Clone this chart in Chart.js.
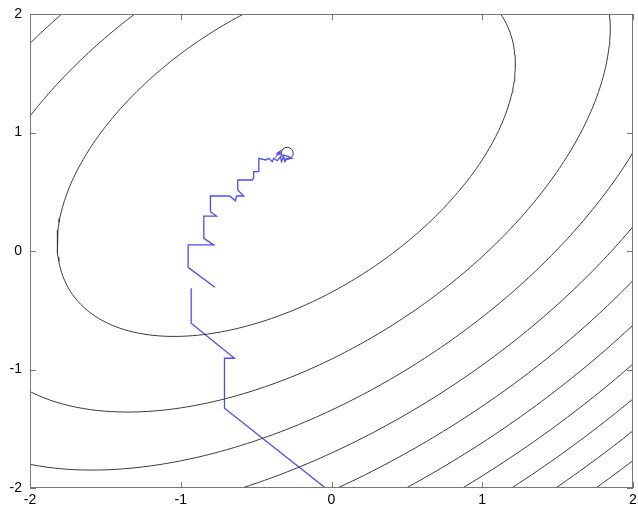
<!DOCTYPE html>
<html>
<head>
<meta charset="utf-8">
<script src="https://cdn.jsdelivr.net/npm/chart.js@4/dist/chart.umd.min.js"></script>
<style>
  html, body { margin: 0; padding: 0; background: #fff; }
  #wrap { width: 638px; height: 510px; }
</style>
</head>
<body>
<div id="wrap"><canvas id="contourChart" width="638" height="510"></canvas></div>
<script>
// quadratic bowl: f = a*dx^2 + 2b*dx*dy + c*dy^2
const bowlCenter = [-0.30, 0.82];
const bowlA = 1.054;
const bowlB = -0.509;
const bowlC = 1.025;
const contourLevels = [1.85, 3.7, 5.55, 7.4, 9.25, 11.1, 12.95, 14.8, 16.65, 18.5];

// search path (two pieces, there is a break in the picture)
const lowerX = [-0.04, -0.71, -0.71, -0.644, -0.931, -0.931];
const lowerY = [-2.0, -1.327, -0.905, -0.905, -0.61, -0.315];
const upperX = [-0.774, -0.951, -0.951, -0.781, -0.847, -0.847, -0.763, -0.803, -0.803, -0.675, -0.637, -0.630,
                -0.582, -0.622, -0.622, -0.526, -0.516, -0.516, -0.482, -0.482, -0.438, -0.416, -0.393, -0.383,
                -0.360, -0.338, -0.332, -0.317, -0.310, -0.294, -0.265, -0.283, -0.360, -0.345, -0.360, -0.338,
                -0.352, -0.340];
const upperY = [-0.306, -0.138, 0.051, 0.051, 0.107, 0.295, 0.295, 0.332, 0.464, 0.464, 0.424, 0.464,
                0.464, 0.515, 0.599, 0.599, 0.620, 0.669, 0.669, 0.782, 0.768, 0.782, 0.754, 0.782,
                0.762, 0.796, 0.754, 0.796, 0.754, 0.782, 0.782, 0.796, 0.824, 0.838, 0.810, 0.835,
                0.815, 0.828];
const minimumPoint = [-0.294, 0.824];

const tickValues = [-2, -1, 0, 1, 2];

// level set of the bowl as a closed curve
const ellipsePoints = (level) => {
  const pts = [];
  for (let i = 0; i <= 360; i++) {
    const t = i * Math.PI / 180;
    const ux = Math.cos(t), uy = Math.sin(t);
    const q = bowlA * ux * ux + 2 * bowlB * ux * uy + bowlC * uy * uy;
    const r = Math.sqrt(level / q);
    pts.push({ x: bowlCenter[0] + r * ux, y: bowlCenter[1] + r * uy });
  }
  return pts;
};

const toPoints = (xs, ys) => xs.map((x, i) => ({ x, y: ys[i] }));

const datasets = contourLevels.map(lv => ({
  data: ellipsePoints(lv),
  showLine: true,
  borderColor: '#3a3a3a',
  borderWidth: 1,
  pointRadius: 0,
  tension: 0
}));

const pathStyle = {
  showLine: true,
  borderColor: '#4a4aff',
  borderWidth: 1.3,
  pointRadius: 0,
  tension: 0
};
datasets.push(Object.assign({ data: toPoints(lowerX, lowerY) }, pathStyle));
datasets.push(Object.assign({ data: toPoints(upperX, upperY) }, pathStyle));
datasets.push({
  data: [{ x: minimumPoint[0], y: minimumPoint[1] }],
  pointRadius: 6,
  pointBorderWidth: 1,
  borderColor: '#333',
  backgroundColor: '#fff'
});

// box round the plot and inward ticks on all four sides
const boxTicks = {
  id: 'boxTicks',
  afterDatasetsDraw(chart) {
    const { ctx, chartArea: a, scales } = chart;
    ctx.save();
    ctx.strokeStyle = '#777';
    ctx.lineWidth = 1;
    ctx.strokeRect(a.left + 0.5, a.top + 0.5, a.right - a.left - 1, a.bottom - a.top - 1);
    ctx.beginPath();
    tickValues.forEach(v => {
      const px = Math.round(scales.x.getPixelForValue(v)) + 0.5;
      ctx.moveTo(px, a.bottom); ctx.lineTo(px, a.bottom - 6);
      ctx.moveTo(px, a.top); ctx.lineTo(px, a.top + 6);
      const py = Math.round(scales.y.getPixelForValue(v)) + 0.5;
      ctx.moveTo(a.left, py); ctx.lineTo(a.left + 6, py);
      ctx.moveTo(a.right, py); ctx.lineTo(a.right - 6, py);
    });
    ctx.stroke();
    ctx.restore();
  }
};

const tickFont = { family: '"Liberation Sans", Arial, sans-serif', size: 14 };

new Chart(document.getElementById('contourChart'), {
  type: 'scatter',
  data: { datasets },
  options: {
    responsive: false,
    animation: false,
    layout: { autoPadding: false, padding: { top: 14, right: 5, left: 0, bottom: 0 } },
    plugins: { legend: { display: false }, tooltip: { enabled: false } },
    scales: {
      x: {
        min: -2, max: 2,
        afterBuildTicks: s => { s.ticks = tickValues.map(v => ({ value: v })); },
        ticks: { color: '#000', font: tickFont, padding: 4, maxRotation: 0 },
        grid: { display: false, drawTicks: false },
        border: { display: false },
        afterFit: s => { s.height = 22; s.paddingLeft = 0; s.paddingRight = 0; }
      },
      y: {
        min: -2, max: 2,
        afterBuildTicks: s => { s.ticks = tickValues.map(v => ({ value: v })); },
        ticks: { color: '#000', font: tickFont, padding: 8 },
        grid: { display: false, drawTicks: false },
        border: { display: false },
        afterFit: s => { s.width = 30; s.paddingTop = 0; s.paddingBottom = 0; }
      }
    }
  },
  plugins: [boxTicks]
});
</script>
</body>
</html>
